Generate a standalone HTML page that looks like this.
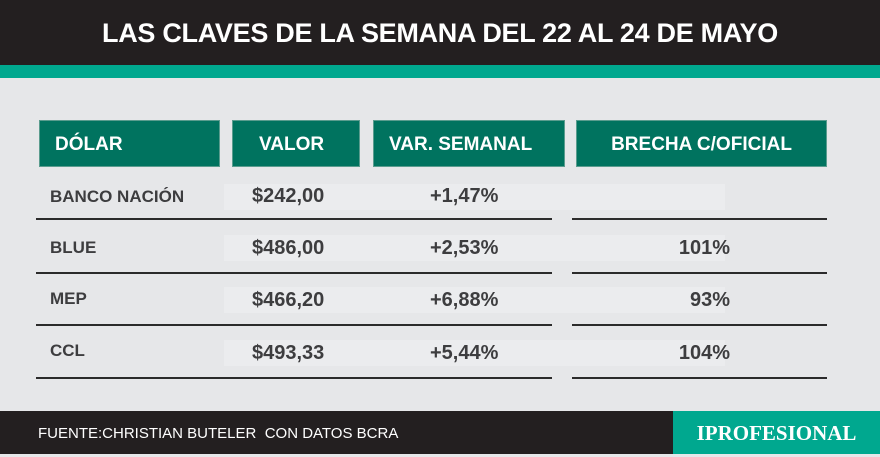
<!DOCTYPE html>
<html><head><meta charset="utf-8"><style>
body{margin:0;width:880px;height:454px;overflow:hidden;background:#e6e7e9;font-family:"Liberation Sans",sans-serif;position:relative}
div{position:absolute}
.top{left:0;top:0;width:880px;height:65px;background:#231f20;color:#fff;font-weight:bold;font-size:27px;text-align:center;line-height:66px;letter-spacing:-0.3px}
.stripe{left:0;top:65px;width:880px;height:13px;background:#00a88f}
.h{top:120px;height:47px;background:#00735f;color:#fff;font-weight:bold;font-size:19px;line-height:48px;border:1px solid #5a9c8e;box-sizing:border-box}
.ln{height:2px;background:#2b2b2b}
.sh{height:26px;background:#ebecee}
.t{font-weight:bold;color:#3d3d3f;font-size:20px}
.l{font-weight:bold;color:#3d3d3f;font-size:17px}
.foot{left:0;top:411px;width:673px;height:43px;background:#231f20;color:#fff;font-size:15px;line-height:46px;padding-left:38px;box-sizing:border-box}
.logo{left:673px;top:411px;width:207px;height:43px;background:#00a88f;color:#fff;font-family:"Liberation Serif",serif;font-weight:bold;font-size:21px;text-align:center;line-height:44px}
</style></head><body>
<div class="top">LAS CLAVES DE LA SEMANA DEL 22 AL 24 DE MAYO</div>
<div class="stripe"></div>
<div class="h" style="left:39px;width:181px;padding-left:15px">DÓLAR</div>
<div class="h" style="left:232px;width:128px;padding-left:26px">VALOR</div>
<div class="h" style="left:373px;width:192px;padding-left:15px">VAR. SEMANAL</div>
<div class="h" style="left:576px;width:251px;text-align:center">BRECHA C/OFICIAL</div>

<div class="sh" style="left:224px;top:184px;width:501px"></div>
<div class="sh" style="left:224px;top:235px;width:501px"></div>
<div class="sh" style="left:224px;top:287px;width:501px"></div>
<div class="sh" style="left:224px;top:340px;width:501px"></div>

<div class="ln" style="left:36px;top:218px;width:516px"></div><div class="ln" style="left:572px;top:218px;width:255px"></div>
<div class="ln" style="left:36px;top:272px;width:516px"></div><div class="ln" style="left:572px;top:272px;width:255px"></div>
<div class="ln" style="left:36px;top:324px;width:516px"></div><div class="ln" style="left:572px;top:324px;width:255px"></div>
<div class="ln" style="left:36px;top:377px;width:516px"></div><div class="ln" style="left:572px;top:377px;width:255px"></div>

<div class="l" style="left:50px;top:187px">BANCO NACIÓN</div>
<div class="t" style="left:252px;top:185px">$242,00</div>
<div class="t" style="left:430px;top:185px">+1,47%</div>

<div class="l" style="left:50px;top:238px">BLUE</div>
<div class="t" style="left:252px;top:237px">$486,00</div>
<div class="t" style="left:430px;top:237px">+2,53%</div>
<div class="t" style="left:600px;width:130px;text-align:right;top:237px">101%</div>

<div class="l" style="left:50px;top:289px">MEP</div>
<div class="t" style="left:252px;top:289px">$466,20</div>
<div class="t" style="left:430px;top:289px">+6,88%</div>
<div class="t" style="left:600px;width:130px;text-align:right;top:289px">93%</div>

<div class="l" style="left:50px;top:341px">CCL</div>
<div class="t" style="left:252px;top:342px">$493,33</div>
<div class="t" style="left:430px;top:342px">+5,44%</div>
<div class="t" style="left:600px;width:130px;text-align:right;top:342px">104%</div>

<div class="foot">FUENTE:CHRISTIAN BUTELER&nbsp; CON DATOS BCRA</div>
<div class="logo">IPROFESIONAL</div>
</body></html>
